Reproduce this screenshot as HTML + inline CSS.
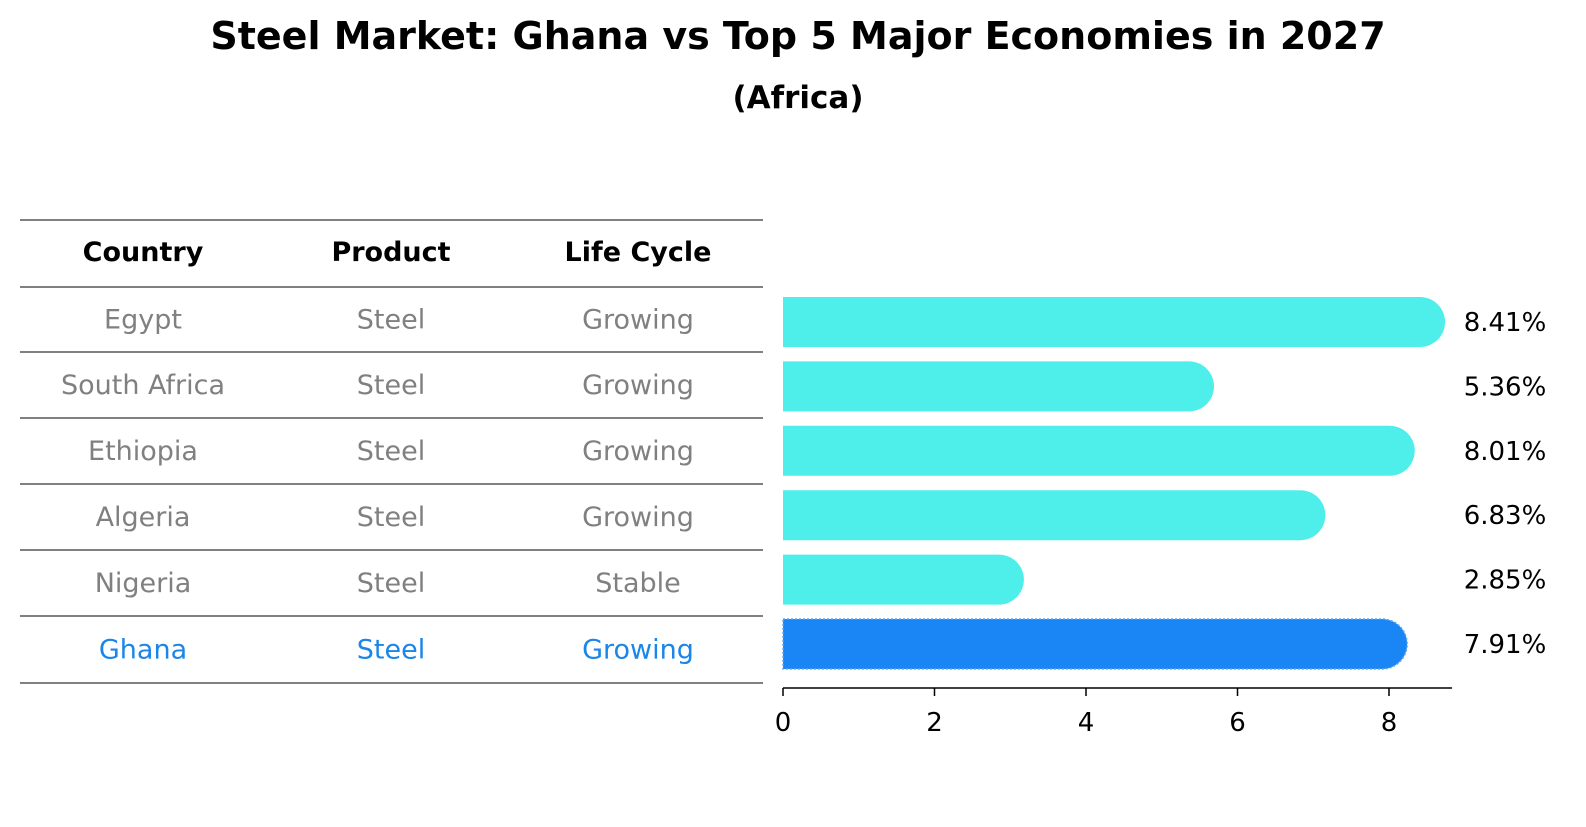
<!DOCTYPE html>
<html><head><meta charset="utf-8"><style>
body{margin:0;background:#fff;font-family:"DejaVu Sans","Liberation Sans",sans-serif}
</style></head><body>
<svg width="1586" height="823" xmlns="http://www.w3.org/2000/svg" font-family="DejaVu Sans, Liberation Sans, sans-serif">
<text x="798" y="49" text-anchor="middle" font-size="38" font-weight="bold">Steel Market: Ghana vs Top 5 Major Economies in 2027</text>
<text x="798" y="108" text-anchor="middle" font-size="31" font-weight="bold">(Africa)</text>
<g id="table"></g>
<g id="bars"></g>
</svg>
<script>
const countries=["Egypt","South Africa","Ethiopia","Algeria","Nigeria","Ghana"];
const products=["Steel","Steel","Steel","Steel","Steel","Steel"];
const lifecycle=["Growing","Growing","Growing","Growing","Stable","Growing"];
const values=[8.41,5.36,8.01,6.83,2.85,7.91];
const ticks=[0,2,4,6,8];
const NS="http://www.w3.org/2000/svg";
function mk(t,a,p,txt){const e=document.createElementNS(NS,t);for(const k in a)e.setAttribute(k,a[k]);if(txt!==undefined)e.textContent=txt;p.appendChild(e);return e;}
const tb=document.getElementById('table');
const lineYs=[220,287,352,418,484,550,616,683];
lineYs.forEach((y,i)=>{const l=mk('line',{x1:20,x2:763,y1:y,y2:y,stroke:'#000','stroke-width':1},tb);

});
const colX=[143,391,638];
["Country","Product","Life Cycle"].forEach((h,i)=>{const t=mk('text',{x:colX[i],y:261,'text-anchor':'middle','font-size':27,'font-weight':'bold'},tb,h);

});
countries.forEach((c,r)=>{const y=(lineYs[r+1]+lineYs[r+2])/2+9;const col=c==="Ghana"?"#1a86e8":"#808080";
[c,products[r],lifecycle[r]].forEach((v,i)=>{const t=mk('text',{x:colX[i],y:y,'text-anchor':'middle','font-size':27,fill:col},tb,v);

});});
const bg=document.getElementById('bars');
const x0=783,sc=75.75;const X=v=>x0+v*sc;
const cy0=322,step=64.4,h=50;
values.forEach((v,i)=>{const cy=cy0+i*step;const xe=X(v);const g=countries[i]==="Ghana";
const p=mk('path',{d:`M${x0},${cy-h/2}H${xe}A${h/2},${h/2} 0 0 1 ${xe},${cy+h/2}H${x0}Z`,fill:g?'#1a86f5':'#4eeeea',stroke:g?'#5aa8f0':'none','stroke-dasharray':g?'2,2':'none','stroke-width':1.5},bg);


const t=mk('text',{x:1505,y:cy+9,'text-anchor':'middle','font-size':26},bg,v.toFixed(2)+'%');

});
const ax=mk('line',{x1:x0,x2:1452,y1:688,y2:688,stroke:'#000','stroke-width':1.5},bg);


ticks.forEach(tk=>{const l=mk('line',{x1:X(tk),x2:X(tk),y1:688,y2:696,stroke:'#000','stroke-width':1.5},bg);


const t=mk('text',{x:X(tk),y:731,'text-anchor':'middle','font-size':26},bg,String(tk));

});
</script>
</body></html>
